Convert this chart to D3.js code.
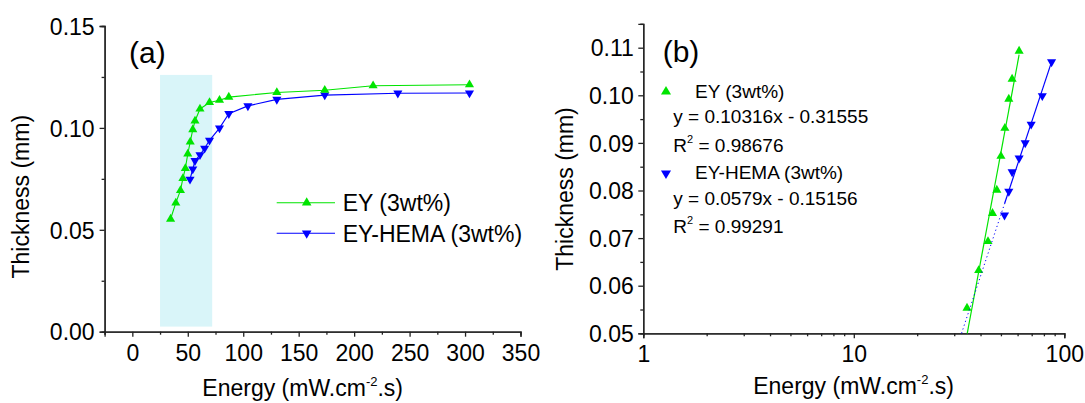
<!DOCTYPE html>
<html><head><meta charset="utf-8">
<script src="https://cdn.jsdelivr.net/npm/d3@7"></script>
<style>
body{margin:0;background:#fff}
svg{display:block}
text{font-family:"Liberation Sans",Arial,sans-serif;fill:#000}
</style>
</head><body>
<svg id="chart" width="1085" height="403"></svg>
<script>
// ---------- data ----------
const eyEnergy = [34.5, 39.2, 43.4, 45.6, 47.8, 50, 52.2, 54.5, 56.5, 61, 69.6, 78.6, 87, 130.3, 173.5, 217.1, 304];
const eyThickness = [0.0553, 0.0632, 0.0693, 0.0752, 0.0801, 0.0872, 0.0931, 0.0992, 0.1034, 0.1093, 0.1125, 0.1136, 0.1151, 0.1174, 0.1185, 0.1207, 0.1212];
const hemaEnergy = [52, 54.5, 56.5, 61, 65.2, 69.6, 78.6, 87, 104.2, 130.3, 173.5, 239.4, 304];
const hemaThickness = [0.0748, 0.0798, 0.0839, 0.0868, 0.0900, 0.0939, 0.0999, 0.1070, 0.1108, 0.1140, 0.1161, 0.1170, 0.1171];
// points used in the log fit (panel b)
const eyFitEnergy = [34.5, 39.2, 43.4, 45.6, 47.8, 50, 52.2, 54.5, 56.5, 61];
const eyFitThickness = [0.0553, 0.0632, 0.0693, 0.0752, 0.0801, 0.0872, 0.0931, 0.0992, 0.1034, 0.1093];
const hemaFitEnergy = [52, 54.5, 56.5, 61, 65.2, 69.6, 78.6, 87];
const hemaFitThickness = [0.0748, 0.0798, 0.0839, 0.0868, 0.0900, 0.0939, 0.0999, 0.1070];
const seriesNames = ["EY (3wt%)", "EY-HEMA (3wt%)"];
const fitSlopes = [0.10316, 0.0579];
const fitIntercepts = [-0.31555, -0.15156];
const fitEquations = ["y = 0.10316x - 0.31555", "y = 0.0579x - 0.15156"];
const fitR2 = ["0.98676", "0.99291"];
const shadedRange = [25, 72];
const shadedThickness = [0.0025, 0.126];
const aXTicks = [0, 50, 100, 150, 200, 250, 300, 350];
const aXMinor = [-25, 25, 75, 125, 175, 225, 275, 325];
const aYTicks = [0, 0.05, 0.10, 0.15];
const aYMinor = [0.025, 0.075, 0.125];
const bXTicks = [1, 10, 100];
const bXMinor = [2,3,4,5,6,7,8,9,20,30,40,50,60,70,80,90];
const bYTicks = [0.05, 0.06, 0.07, 0.08, 0.09, 0.10, 0.11];
const bYMinor = [0.055, 0.065, 0.075, 0.085, 0.095, 0.105, 0.115];

const GREEN = "#00e400", BLUE = "#0000ff", AXIS = "#222";
const FS = 23;
const svg = d3.select("#chart");

const tri = d3.symbol().type(d3.symbolTriangle);
function marker(g, x, y, color, down, size) {
  g.append("path").attr("d", tri.size(size)())
    .attr("transform", `translate(${x},${y})${down ? " rotate(180)" : ""}`)
    .attr("fill", color);
}
function styleAxis(g) {
  g.select(".domain").attr("stroke", AXIS).attr("stroke-width", 1.3);
  g.selectAll(".tick line").attr("stroke", AXIS).attr("stroke-width", 1.3);
}
function energyTitle(g, x, y) {
  const t = g.append("text").attr("x", x).attr("y", y).attr("text-anchor", "middle").attr("font-size", FS);
  t.append("tspan").text("Energy (mW.cm");
  t.append("tspan").attr("font-size", 13).attr("dy", -10).text("-2");
  t.append("tspan").attr("dy", 10).text(".s)");
}

// ---------- panel (a) ----------
const ax = d3.scaleLinear().domain([-25, 350]).range([104.6, 520.5]);
const ay = d3.scaleLinear().domain([0, 0.15]).range([331.7, 26]);
const A = svg.append("g");

A.append("rect")
  .attr("x", ax(shadedRange[0])).attr("width", ax(shadedRange[1]) - ax(shadedRange[0]))
  .attr("y", ay(shadedThickness[1])).attr("height", ay(shadedThickness[0]) - ay(shadedThickness[1]))
  .attr("fill", "#d9f5f9");

const axMinorG = A.append("g").attr("transform", `translate(0,${ay(0)})`)
  .call(d3.axisBottom(ax).tickValues(aXMinor).tickSize(3).tickFormat(""));
styleAxis(axMinorG);
const axG = A.append("g").attr("transform", `translate(0,${ay(0)})`)
  .call(d3.axisBottom(ax).tickValues(aXTicks).tickSize(5).tickFormat(d3.format("d")));
styleAxis(axG);
axG.selectAll("text").attr("y", 29).attr("dy", 0).attr("font-size", FS).attr("font-family", null);

const ayMinorG = A.append("g").attr("transform", `translate(${ax(-25)},0)`)
  .call(d3.axisLeft(ay).tickValues(aYMinor).tickSize(3).tickFormat(""));
styleAxis(ayMinorG);
const ayG = A.append("g").attr("transform", `translate(${ax(-25)},0)`)
  .call(d3.axisLeft(ay).tickValues(aYTicks).tickSize(5).tickFormat(d3.format(".2f")));
styleAxis(ayG);
ayG.selectAll("text").attr("x", -10).attr("dy", "0.36em").attr("font-size", FS).attr("font-family", null);

const lineA = d3.line().x(d => ax(d[0])).y(d => ay(d[1]));
const eyPts = eyEnergy.map((e, i) => [e, eyThickness[i]]);
const hemaPts = hemaEnergy.map((e, i) => [e, hemaThickness[i]]);
A.append("path").attr("d", lineA(hemaPts)).attr("fill", "none").attr("stroke", BLUE).attr("stroke-width", 1.1);
A.append("path").attr("d", lineA(eyPts)).attr("fill", "none").attr("stroke", GREEN).attr("stroke-width", 1.1);
hemaPts.forEach(p => marker(A, ax(p[0]), ay(p[1]), BLUE, true, 36));
eyPts.forEach(p => marker(A, ax(p[0]), ay(p[1]), GREEN, false, 36));

[GREEN, BLUE].forEach((c, i) => {
  const y = 202.7 + i * 30.6;
  A.append("line").attr("x1", 276.7).attr("x2", 335).attr("y1", y).attr("y2", y)
    .attr("stroke", c).attr("stroke-width", 1.1);
  marker(A, 306.7, y, c, i === 1, 40);
  A.append("text").attr("x", 342.7).attr("y", y + 8.2).attr("font-size", FS).text(seriesNames[i]);
});

A.append("text").attr("x", 129).attr("y", 63).attr("font-size", 30).text("(a)");
A.append("text").attr("transform", `translate(${20.7 + 8.3},196.7) rotate(-90)`)
  .attr("text-anchor", "middle").attr("font-size", FS).text("Thickness (mm)");
energyTitle(A, 302.7, 395.5);

// ---------- panel (b) ----------
const bx = d3.scaleLog().domain([1, 100]).range([643.3, 1064.3]);
const by = d3.scaleLinear().domain([0.05, 0.115]).range([333.3, 23.9]);
const B = svg.append("g");

const bxMinorG = B.append("g").attr("transform", `translate(0,${by(0.05)})`)
  .call(d3.axisBottom(bx).tickValues(bXMinor).tickSize(3).tickFormat(""));
styleAxis(bxMinorG);
const bxG = B.append("g").attr("transform", `translate(0,${by(0.05)})`)
  .call(d3.axisBottom(bx).tickValues(bXTicks).tickSize(5).tickFormat(d3.format("d")));
styleAxis(bxG);
bxG.selectAll("text").attr("y", 28.4).attr("dy", 0).attr("font-size", FS).attr("font-family", null);

const byMinorG = B.append("g").attr("transform", `translate(${bx(1)},0)`)
  .call(d3.axisLeft(by).tickValues(bYMinor).tickSize(3).tickFormat(""));
styleAxis(byMinorG);
const byG = B.append("g").attr("transform", `translate(${bx(1)},0)`)
  .call(d3.axisLeft(by).tickValues(bYTicks).tickSize(5).tickFormat(d3.format(".2f")));
styleAxis(byG);
byG.selectAll("text").attr("x", -9.5).attr("dy", "0.36em").attr("font-size", FS).attr("font-family", null);

const fitSets = [[eyFitEnergy, eyFitThickness], [hemaFitEnergy, hemaFitThickness]];
const colors = [GREEN, BLUE];
fitSets.forEach((s, i) => {
  const f = e => fitSlopes[i] * Math.log(e) + fitIntercepts[i];
  const eAxis = Math.exp((0.05 - fitIntercepts[i]) / fitSlopes[i]);
  const eMin = d3.min(s[0]), eMax = d3.max(s[0]);
  if (eAxis < eMin) {
    B.append("line").attr("x1", bx(eAxis)).attr("y1", by(0.05)).attr("x2", bx(eMin)).attr("y2", by(f(eMin)))
      .attr("stroke", colors[i]).attr("stroke-width", 1).attr("stroke-dasharray", "1.2,2.8");
  }
  const eStart = Math.max(eMin, eAxis);
  B.append("line").attr("x1", bx(eStart)).attr("y1", by(f(eStart))).attr("x2", bx(eMax)).attr("y2", by(f(eMax)))
    .attr("stroke", colors[i]).attr("stroke-width", 1.2);
  s[0].forEach((e, j) => marker(B, bx(e), by(s[1][j]), colors[i], i === 1, 36));
});

const legB = [[91.7, 98.3, 123.3, 152.3], [173.3, 179.3, 205, 233.3]];
legB.forEach((r, i) => {
  marker(B, 666, r[0], colors[i], i === 1, 44);
  B.append("text").attr("x", 695).attr("y", r[1]).attr("font-size", 19).text(seriesNames[i]);
  B.append("text").attr("x", 673.3).attr("y", r[2]).attr("font-size", 19).text(fitEquations[i]);
  const t = B.append("text").attr("x", 673.3).attr("y", r[3]).attr("font-size", 19);
  t.append("tspan").text("R");
  t.append("tspan").attr("font-size", 11).attr("dy", -9).text("2");
  t.append("tspan").attr("dy", 9).text(" = " + fitR2[i]);
});

B.append("text").attr("x", 662.7).attr("y", 62).attr("font-size", 30).text("(b)");
B.append("text").attr("transform", `translate(${564.3 + 8.3},189) rotate(-90)`)
  .attr("text-anchor", "middle").attr("font-size", FS).text("Thickness (mm)");
energyTitle(B, 853.6, 394);
</script>
</body></html>
